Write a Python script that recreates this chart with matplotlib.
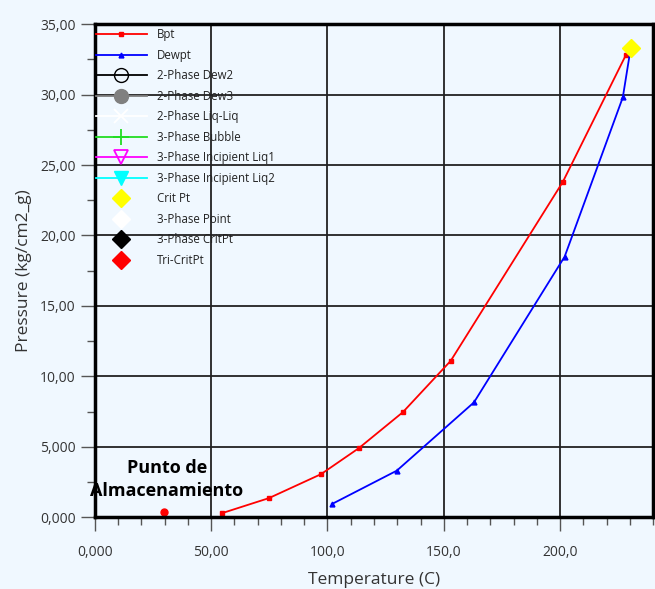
import matplotlib
matplotlib.use("Agg")
import matplotlib.pyplot as plt
from matplotlib.ticker import FuncFormatter, MultipleLocator

plt.rcParams['font.family'] = ['Open Sans', 'DejaVu Sans']

bpt_T = [54.6, 74.8, 97.2, 113.5, 132.4, 153.0, 201.2, 228.3, 230.4]
bpt_P = [0.28, 1.35, 3.05, 4.90, 7.45, 11.1, 23.8, 32.8, 33.3]
dew_T = [101.9, 129.8, 163.0, 202.0, 227.0, 230.4]
dew_P = [0.93, 3.30, 8.15, 18.5, 29.8, 33.3]
crit_T = [230.4]
crit_P = [33.3]
store_T = [29.7]
store_P = [0.35]
store_label = "Punto de\nAlmacenamiento"

bg = '#F0F8FF'
fig = plt.figure(figsize=(6.55, 5.89), dpi=100, facecolor=bg)
ax = fig.add_axes([0.145, 0.122, 0.852, 0.837], facecolor=bg)

ax.plot(bpt_T[:-1], bpt_P[:-1], color='red', lw=1.3, marker='s', ms=3, label='Bpt')
ax.plot(bpt_T[-2:], bpt_P[-2:], color='red', lw=1.3)
ax.plot(dew_T[:-1], dew_P[:-1], color='blue', lw=1.3, marker='^', ms=3.5, label='Dewpt')
ax.plot(dew_T[-2:], dew_P[-2:], color='blue', lw=1.3)
ax.plot([], [], color='black', lw=1.3, marker='o', ms=10, mfc='none', mec='black', label='2-Phase Dew2')
ax.plot([], [], color='gray', lw=1.3, marker='o', ms=10, mfc='gray', mec='gray', label='2-Phase Dew3')
ax.plot([], [], color='white', lw=1.3, marker='x', ms=10, mew=1.3, label='2-Phase Liq-Liq')
ax.plot([], [], color='#22DD22', lw=1.3, marker='+', ms=12, mew=1.3, label='3-Phase Bubble')
ax.plot([], [], color='magenta', lw=1.3, marker='v', ms=10, mfc='none', mec='magenta', mew=1.3, label='3-Phase Incipient Liq1')
ax.plot([], [], color='cyan', lw=1.3, marker='v', ms=10, mfc='cyan', mec='cyan', label='3-Phase Incipient Liq2')
ax.plot(crit_T, crit_P, ls='none', marker='D', ms=9, color='yellow', label='Crit Pt', zorder=5)
ax.plot([], [], ls='none', marker='D', ms=9, color='white', label='3-Phase Point')
ax.plot([], [], ls='none', marker='D', ms=9, color='black', label='3-Phase CritPt')
ax.plot([], [], ls='none', marker='D', ms=9, color='red', label='Tri-CritPt')

ax.plot(store_T, store_P, ls='none', marker='o', ms=5, color='red')
ax.text(31, 1.2, store_label, ha='center', va='bottom', fontsize=13,
        fontweight='bold', linespacing=1.4)

ax.set_xlim(0, 240)
ax.set_ylim(0, 35)
ax.xaxis.set_major_locator(MultipleLocator(50))
ax.xaxis.set_minor_locator(MultipleLocator(10))
ax.yaxis.set_major_locator(MultipleLocator(5))
ax.yaxis.set_minor_locator(MultipleLocator(2.5))

def fmt(v, pos):
    if v == 0:
        s = "0.000"
    elif abs(v) < 100:
        s = f"{v:.3f}" if abs(v) < 10 else f"{v:.2f}"
    else:
        s = f"{v:.1f}"
    return s.replace('.', ',')

ax.xaxis.set_major_formatter(FuncFormatter(fmt))
ax.yaxis.set_major_formatter(FuncFormatter(fmt))

ax.grid(True, which='major', color='#222222', lw=1.3)
for s in ax.spines.values():
    s.set_linewidth(2.5)
    s.set_color('black')
ax.tick_params(which='major', length=10, width=1, color='#555555', labelsize=10, labelcolor='#333333')
ax.tick_params(which='minor', length=6, width=1, color='#555555')
ax.tick_params(axis='x', which='major', pad=10)
ax.tick_params(axis='y', which='major', pad=4)

ax.set_xlabel('Temperature (C)', fontsize=12.5, color='#333333', labelpad=8.5)
ax.set_ylabel('Pressure (kg/cm2_g)', fontsize=12.5, color='#333333', labelpad=6)

leg = ax.legend(loc='upper left', bbox_to_anchor=(0, 0.994), frameon=False, fontsize=8.3,
                handlelength=4.4, handletextpad=0.9, labelspacing=0.65, borderaxespad=0,
                borderpad=0.1)
for t in leg.get_texts():
    t.set_color('#222222')

fig.savefig('out.png', dpi=100, facecolor=bg)
